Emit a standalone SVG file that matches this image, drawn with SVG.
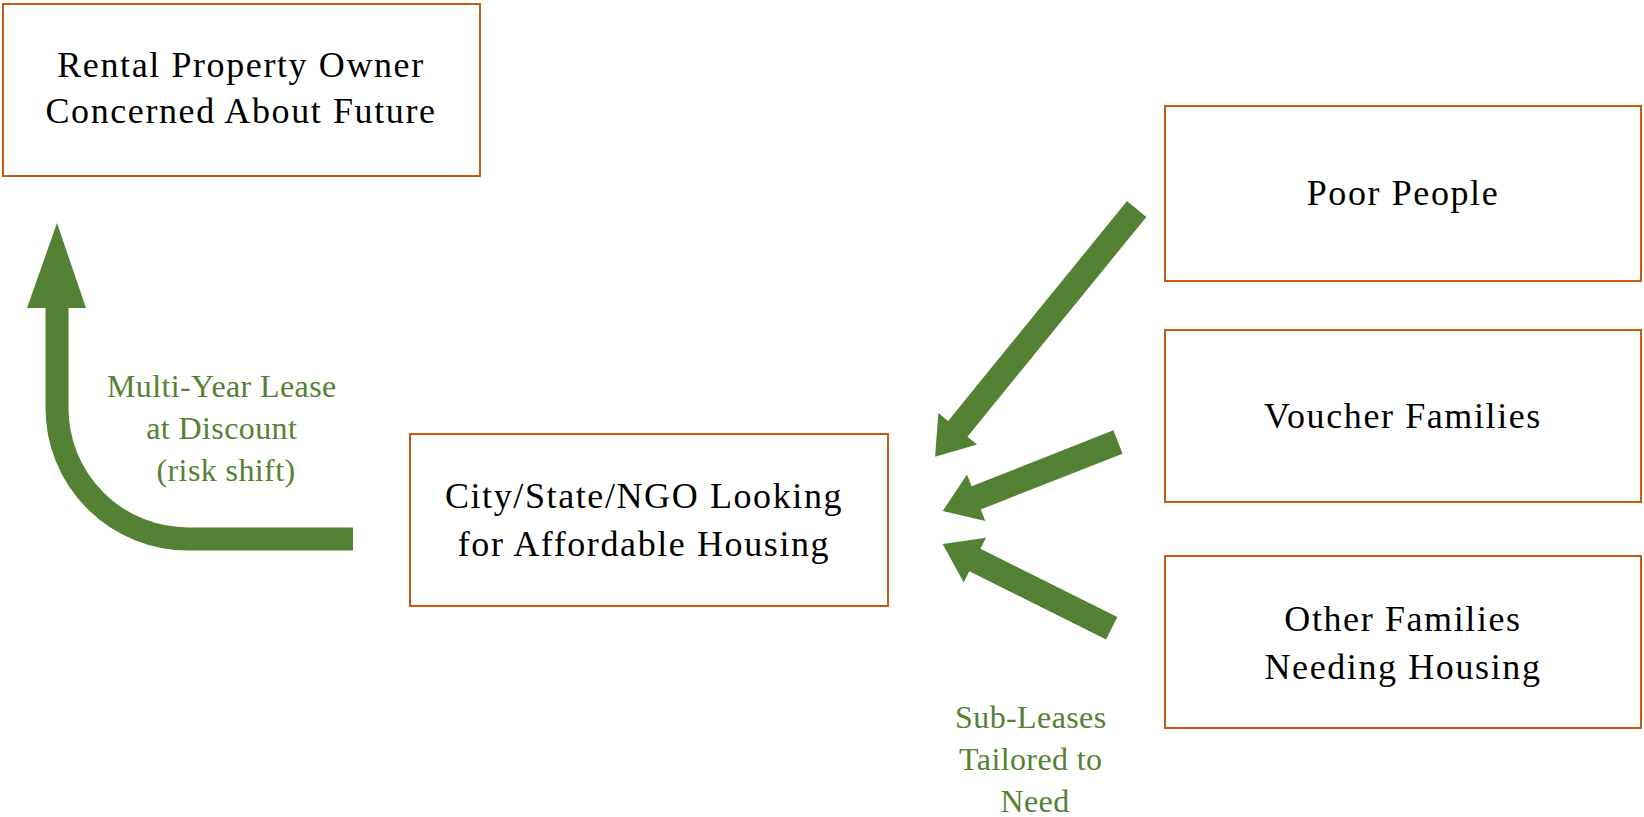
<svg xmlns="http://www.w3.org/2000/svg" width="1644" height="817" viewBox="0 0 1644 817">
  <style>
    .box { fill: #ffffff; stroke: #C55A11; stroke-width: 2; }
    .nt { font-family: "Liberation Serif", "Times New Roman", serif; font-size: 36px; letter-spacing: 1.6px; fill: #000000; text-anchor: middle; }
    .lbl { font-family: "Liberation Serif", "Times New Roman", serif; font-size: 32px; letter-spacing: 0.4px; fill: #548235; text-anchor: middle; }
    .arrow { fill: #548235; stroke: none; }
    .shaft { fill: none; stroke: #548235; stroke-width: 23; stroke-linecap: butt; }
  </style>
  <rect width="1644" height="817" fill="#ffffff"/>

  <g id="connectors">
    <g id="lease-arrow">
      <path class="shaft" d="M 353,539 H 188 A 131 131 0 0 1 57,408 V 306"/>
      <polygon class="arrow" points="57,223 86,308 27,308"/>
    </g>
    <polygon id="arrow-poor" class="arrow" transform="translate(1136.7,209) rotate(129.15)" points="0,-12.5 283.4,-12.5 283.4,-25 319.4,0 283.4,25 283.4,12.5 0,12.5"/>
    <polygon id="arrow-voucher" class="arrow" transform="translate(1118,442) rotate(158.52)" points="0,-12.5 152.4,-12.5 152.4,-25 188.4,0 152.4,25 152.4,12.5 0,12.5"/>
    <polygon id="arrow-other" class="arrow" transform="translate(1111.7,628.3) rotate(206.51)" points="0,-12.5 152.9,-12.5 152.9,-25 188.9,0 152.9,25 152.9,12.5 0,12.5"/>
    <text id="label-lease" class="lbl">
      <tspan x="226" y="397">Multi-Year Lease</tspan>
      <tspan x="226" y="439">at Discount</tspan>
      <tspan x="226" y="481">(risk shift)</tspan>
    </text>
    <text id="label-sublease" class="lbl">
      <tspan x="1035" y="728">Sub-Leases</tspan>
      <tspan x="1035" y="770">Tailored to</tspan>
      <tspan x="1035" y="812">Need</tspan>
    </text>
  </g>

  <g id="node-owner">
    <rect class="box" x="3" y="4" width="477" height="172"/>
    <text class="nt"><tspan x="241" y="77">Rental Property Owner</tspan><tspan x="241" y="123">Concerned About Future</tspan></text>
  </g>

  <g id="node-city">
    <rect class="box" x="410" y="434" width="478" height="172"/>
    <text class="nt"><tspan x="644" y="508">City/State/NGO Looking</tspan><tspan x="644" y="556">for Affordable Housing</tspan></text>
  </g>

  <g id="node-poor">
    <rect class="box" x="1165" y="106" width="476" height="175"/>
    <text class="nt" x="1403" y="205">Poor People</text>
  </g>

  <g id="node-voucher">
    <rect class="box" x="1165" y="330" width="476" height="172"/>
    <text class="nt" x="1403" y="428">Voucher Families</text>
  </g>

  <g id="node-other">
    <rect class="box" x="1165" y="556" width="476" height="172"/>
    <text class="nt"><tspan x="1403" y="631">Other Families</tspan><tspan x="1403" y="679">Needing Housing</tspan></text>
  </g>
</svg>
